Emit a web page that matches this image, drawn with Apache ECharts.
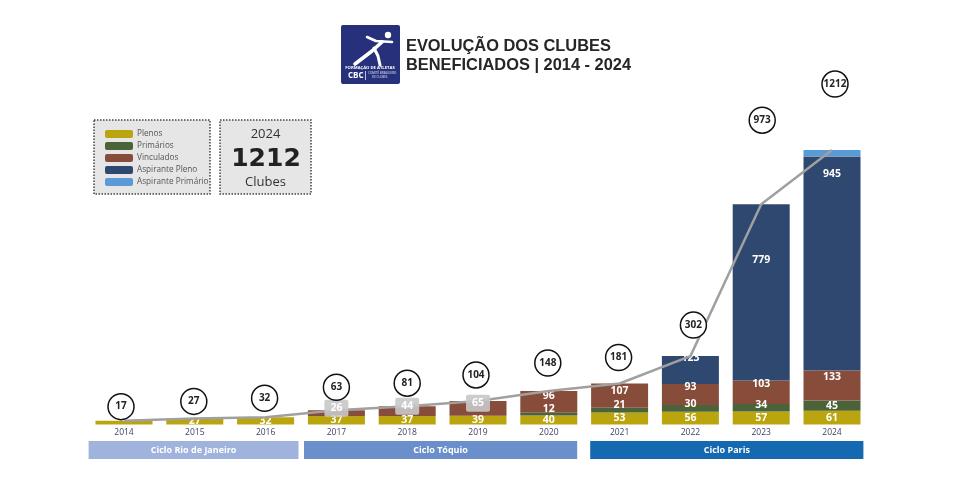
<!DOCTYPE html>
<html>
<head>
<meta charset="utf-8">
<style>html,body{margin:0;padding:0;background:#fff}</style>
<script src="https://cdn.jsdelivr.net/npm/echarts@6/dist/echarts.min.js"></script>
</head>
<body>
<div id="chart" style="width:957px;height:493px"></div>
<script>
const anos = ['2014','2015','2016','2017','2018','2019','2020','2021','2022','2023','2024'];
const plenos = [17,27,32,37,37,39,40,53,56,57,61];
const primarios = [0,0,0,0,0,0,12,21,30,34,45];
const vinculados = [0,0,0,26,44,65,96,107,93,103,133];
const aspirantePleno = [0,0,0,0,0,0,0,0,123,779,945];
const aspirantePrimario = [0,0,0,0,0,0,0,0,0,0,28];
const totais = [17,27,32,63,81,104,148,181,302,973,1212];
const ciclos = ['Ciclo Rio de Janeiro','Ciclo Tóquio','Ciclo Paris'];
const cicloInicio = [0,3,7];
const cicloFim = [2,6,10];

const FONT = '"Open Sans", sans-serif';
const cicloCor = ['#9fb3dc','#6a8fca','#1469b0'];
const cicloAjuste = [[0,-2.5],[3,-7],[6,-4]];
// deslocamento das bolhas em relacao ao ponto da linha
const bolhaDesl = [[-3,-14],[-1,-17],[-1,-19],[0,-23],[0,-23],[-2,-26],[-1,-28],[-1,-26],[3,-31],[1,-84],[3,-66]];
// deslocamento vertical dos rotulos, por serie
const rotuloPrimarios = [0,0,0,0,0,0,-5,-5,-4,-3,0];
const rotuloVinculados = [0,0,0,0,0,0,-6,-5,-7,-8,-8];
const rotuloAspirante = [0,0,0,0,0,0,0,0,-12,-32,-89];

function barra(name, data, color, extra) {
    return Object.assign({
        name: name,
        type: 'bar',
        stack: 'total',
        barWidth: 57,
        data: data,
        itemStyle: {color: color},
        label: {
            show: true,
            position: 'inside',
            color: '#fff',
            fontFamily: FONT,
            fontWeight: 'bold',
            fontSize: 10.5,
            formatter: p => p.value ? p.value : ''
        }
    }, extra);
}

const caixaCinza = i => i >= 3 && i <= 5;
const vinculadosItens = vinculados.map((v, i) => ({
    value: v,
    label: caixaCinza(i) ? {show: false} : {offset: [0, rotuloVinculados[i]]}
}));
const plenosItens = plenos.map((v, i) => i == 0 ? {value: v, label: {show: false}} : v);
const primariosItens = primarios.map((v, i) => ({value: v, label: {offset: [0, rotuloPrimarios[i]]}}));
const aspirantePlenoItens = aspirantePleno.map((v, i) => ({value: v, label: {offset: [0, rotuloAspirante[i]]}}));
// rotulos cinza de 2017-2019 ficam por cima da linha, no meio do segmento
const rotulosCinza = vinculados.map((v, i) => caixaCinza(i) ? plenos[i] + primarios[i] + v / 2 : null);

const caixa = (x, y, w, h) => ({
    type: 'rect',
    shape: {x: x, y: y, width: w, height: h},
    style: {fill: '#e6e6e6', stroke: '#444', lineWidth: 1.5, lineDash: [1.5, 1.5]}
});
const texto = (x, y, text, size, color, weight, align, font) => ({
    type: 'text',
    x: x,
    y: y,
    style: {
        text: text,
        fontSize: size,
        fill: color,
        fontWeight: weight || 'normal',
        fontFamily: font || FONT,
        align: align || 'left',
        verticalAlign: 'middle'
    }
});
const traco = (points, w) => ({
    type: 'polyline',
    shape: {points: points},
    style: {stroke: '#fff', lineWidth: w, lineCap: 'round', lineJoin: 'round', fill: null}
});

const myChart = echarts.init(document.getElementById('chart'), null, {renderer: 'canvas'});
myChart.setOption({
    animation: false,
    backgroundColor: '#fff',
    grid: {left: 88.6, right: 89.6, top: 107.5, height: 317},
    legend: {
        orient: 'vertical',
        left: 100,
        top: 125,
        itemWidth: 28,
        itemHeight: 8,
        itemGap: 4,
        icon: 'roundRect',
        selectedMode: false,
        data: ['Plenos','Primários','Vinculados','Aspirante Pleno','Aspirante Primário'],
        textStyle: {fontFamily: FONT, fontSize: 8.2, color: '#555', padding: [0, 0, 0, -1]}
    },
    xAxis: {
        type: 'category',
        data: anos,
        axisLine: {show: false},
        axisTick: {show: false},
        axisLabel: {fontFamily: FONT, fontSize: 8.5, color: '#3d3f66', margin: 4}
    },
    yAxis: {type: 'value', min: 0, max: 1400, show: false, splitLine: {show: false}},
    series: [
        barra('Plenos', plenosItens, '#bba50f'),
        barra('Primários', primariosItens, '#4a6338'),
        barra('Vinculados', vinculadosItens, '#884c3a'),
        barra('Aspirante Pleno', aspirantePlenoItens, '#2f4870'),
        barra('Aspirante Primário', aspirantePrimario, '#5b9bd5', {label: {show: false}}),
        {
            name: 'Total',
            type: 'line',
            data: totais,
            symbol: 'none',
            z: 5,
            lineStyle: {color: '#a0a0a0', width: 2.5}
        },
        {
            name: 'Rotulos cinza',
            type: 'line',
            data: rotulosCinza,
            showSymbol: true,
            symbol: 'circle',
            symbolSize: 2,
            z: 6,
            lineStyle: {opacity: 0},
            itemStyle: {color: 'transparent'},
            label: {
                show: true,
                position: 'inside',
                offset: [0, -5],
                color: '#fff',
                fontFamily: FONT,
                fontWeight: 'bold',
                fontSize: 10.5,
                backgroundColor: 'rgba(200,200,200,0.9)',
                borderRadius: 2,
                padding: [3, 6],
                formatter: p => vinculados[p.dataIndex]
            }
        },
        {
            name: 'Bolhas',
            type: 'line',
            data: totais.map((v, i) => ({
                value: v,
                symbolOffset: bolhaDesl[i]
            })),
            showSymbol: true,
            symbol: 'circle',
            symbolSize: 26,
            z: 7,
            lineStyle: {opacity: 0},
            itemStyle: {color: '#fff', borderColor: '#111', borderWidth: 1.5, opacity: 1},
            label: {
                show: true,
                position: 'inside',
                color: '#222',
                fontFamily: FONT,
                fontWeight: 'bold',
                fontSize: 10
            }
        },
        {
            name: 'Ciclos',
            type: 'custom',
            silent: true,
            data: cicloInicio.map((s, i) => [s, cicloFim[i]]),
            encode: {x: 0, y: 1},
            renderItem: function (params, api) {
                const i = params.dataIndex;
                const banda = api.size([1, 0])[0];
                const x0 = api.coord([api.value(0), 0])[0] - banda / 2 + cicloAjuste[i][0];
                const x1 = api.coord([api.value(1), 0])[0] + banda / 2 + cicloAjuste[i][1];
                const base = api.coord([0, 0])[1];
                return {
                    type: 'group',
                    children: [
                        {type: 'rect', shape: {x: x0, y: base + 16.5, width: x1 - x0, height: 18}, style: {fill: cicloCor[i]}},
                        {
                            type: 'text',
                            x: (x0 + x1) / 2,
                            y: base + 25.5,
                            style: {text: ciclos[i], fill: '#fff', fontFamily: FONT, fontWeight: 'bold', fontSize: 9, align: 'center', verticalAlign: 'middle'}
                        }
                    ]
                };
            }
        }
    ],
    graphic: [
        // logo
        {type: 'rect', shape: {x: 341, y: 25, width: 59, height: 59, r: 2}, style: {fill: '#27307a'}},
        {type: 'circle', shape: {cx: 388, cy: 35, r: 3.2}, style: {fill: '#fff'}},
        traco([[367, 37], [376, 41], [392, 42]], 2.6),
        traco([[382, 42], [372, 51], [355, 64]], 3.6),
        traco([[374, 48], [378, 56], [380, 65]], 3),
        texto(370, 67.5, 'FORMAÇÃO DE ATLETAS', 4.2, '#fff', 'bold', 'center'),
        texto(348, 75.5, 'CBC', 8, '#fff', 'bold'),
        {type: 'rect', shape: {x: 365, y: 71, width: 0.7, height: 9}, style: {fill: '#fff'}},
        texto(368, 73.5, 'COMITÊ BRASILEIRO', 3, '#dfe3f5'),
        texto(372, 77.5, 'DE CLUBES', 3, '#dfe3f5'),
        // titulo
        texto(406, 46, 'EVOLUÇÃO DOS CLUBES', 16.4, '#262626', 'bold', 'left', '"Liberation Sans", sans-serif'),
        texto(406, 65, 'BENEFICIADOS | 2014 - 2024', 16.4, '#262626', 'bold', 'left', '"Liberation Sans", sans-serif'),
        // caixas
        caixa(94, 120, 116, 74),
        caixa(220, 120, 91, 74),
        texto(265.5, 134, '2024', 13, '#333', 'normal', 'center'),
        texto(266, 159, '1212', 25, '#222', 'bold', 'center', '"DejaVu Sans", sans-serif'),
        texto(265.5, 182, 'Clubes', 13, '#333', 'normal', 'center')
    ]
});
</script>
</body>
</html>
